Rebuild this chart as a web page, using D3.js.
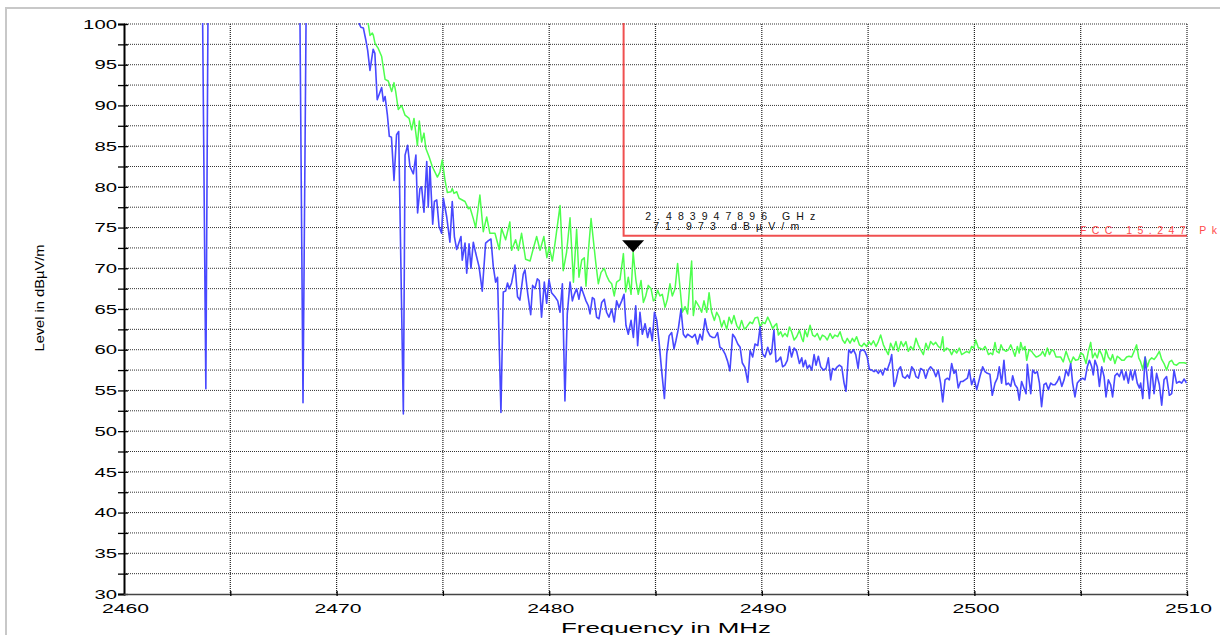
<!DOCTYPE html>
<html><head><meta charset="utf-8">
<script src="https://cdn.jsdelivr.net/npm/d3@7/dist/d3.min.js"></script>
<style>body{margin:0;background:#fff}svg{display:block}text{font-family:"Liberation Sans",Arial,sans-serif}</style>
</head><body>
<script>
// ---- axes ----
const freqDomain = [2460, 2510];
const levelDomain = [30, 100];
const freqGridTicks = [2465, 2470, 2475, 2480, 2485, 2490, 2495, 2500, 2505, 2510];
const freqLabelTicks = [2460, 2470, 2480, 2490, 2500, 2510];
const levelTicks = [30, 32.5, 35, 37.5, 40, 42.5, 45, 47.5, 50, 52.5, 55, 57.5, 60, 62.5, 65, 67.5, 70, 72.5, 75, 77.5, 80, 82.5, 85, 87.5, 90, 92.5, 95, 97.5, 100];
const levelLabelTicks = [30, 35, 40, 45, 50, 55, 60, 65, 70, 75, 80, 85, 90, 95, 100];

// ---- limit line (FCC 15.247 Pk) ----
const limitFreq = [2483.5, 2483.5, 2510];
const limitLevel = [104, 74, 74];
const limitLabel = "FCC 15.247 Pk";

// ---- marker ----
const markerFreq = 2483.947896;
const markerLevel = 71.973;
const markerText = ["2.483947896 GHz", "71.973 dBµV/m"];

// ---- green trace [MHz, dBµV/m] ----
const greenTrace = [
[2471.40,101.0],[2471.49,100.0],[2471.57,98.6],[2471.68,98.9],[2471.73,98.6],[2471.81,97.6],[2471.96,97.0],[2472.12,96.0],[2472.28,93.2],[2472.43,93.0],
[2472.59,91.7],[2472.70,92.8],[2472.78,91.7],[2472.90,89.5],[2473.06,90.0],[2473.22,88.8],[2473.41,88.4],[2473.53,87.0],[2473.64,88.4],[2473.80,85.1],
[2473.89,88.1],[2474.00,85.5],[2474.11,86.6],[2474.20,84.7],[2474.35,83.7],[2474.50,82.5],[2474.74,81.2],[2474.86,81.8],[2474.97,83.3],[2475.10,80.8],
[2475.21,79.3],[2475.38,79.4],[2475.44,79.8],[2475.52,79.2],[2475.65,79.4],[2475.76,78.6],[2476.04,78.2],[2476.20,77.3],[2476.27,77.5],[2476.43,76.1],
[2476.54,75.0],[2476.74,79.0],[2476.90,74.5],[2477.06,76.3],[2477.21,74.3],[2477.45,74.3],[2477.65,72.3],[2477.76,74.9],[2477.95,73.5],[2478.15,75.7],
[2478.23,72.2],[2478.42,73.5],[2478.55,72.2],[2478.70,74.3],[2478.89,71.1],[2479.10,70.9],[2479.25,72.4],[2479.41,73.9],[2479.57,72.2],[2479.75,73.9],
[2479.89,71.3],[2480.00,72.6],[2480.15,70.9],[2480.27,73.0],[2480.51,77.7],[2480.66,69.7],[2480.82,72.0],[2480.98,76.2],[2481.14,68.3],[2481.29,74.8],
[2481.40,68.9],[2481.53,71.0],[2481.65,71.3],[2481.73,67.8],[2481.84,72.0],[2481.97,76.1],[2482.08,73.4],[2482.19,70.7],[2482.31,68.1],[2482.44,69.5],
[2482.59,70.0],[2482.70,69.1],[2482.83,68.4],[2482.94,68.1],[2483.06,66.6],[2483.17,68.3],[2483.33,68.6],[2483.49,71.8],[2483.60,67.1],[2483.72,68.9],
[2483.85,66.8],[2483.948,71.973],[2484.08,68.5],[2484.19,66.8],[2484.32,68.5],[2484.43,65.8],[2484.54,66.6],[2484.66,67.9],[2484.79,67.5],[2484.90,66.0],
[2484.98,66.2],[2485.10,67.3],[2485.21,66.6],[2485.32,66.8],[2485.45,65.2],[2485.56,66.2],[2485.68,68.1],[2485.79,66.6],[2485.92,67.5],[2486.04,70.6],
[2486.15,67.7],[2486.26,64.6],[2486.39,65.3],[2486.51,64.4],[2486.62,68.3],[2486.70,70.9],[2486.78,64.2],[2486.89,66.0],[2487.05,65.3],[2487.17,64.6],
[2487.28,66.0],[2487.41,64.6],[2487.52,67.0],[2487.64,64.6],[2487.77,63.6],[2487.88,64.6],[2488.00,64.0],[2488.11,62.8],[2488.22,63.6],[2488.35,62.5],
[2488.46,64.0],[2488.58,63.2],[2488.69,64.2],[2488.82,63.0],[2488.93,62.5],[2489.05,63.6],[2489.18,62.5],[2489.29,62.8],[2489.45,63.4],[2489.56,63.2],
[2489.68,63.9],[2489.81,64.0],[2489.92,62.8],[2490.03,63.4],[2490.15,63.2],[2490.28,64.0],[2490.39,63.4],[2490.51,62.6],[2490.62,63.0],[2490.70,63.2],
[2490.78,61.8],[2490.89,62.2],[2490.98,61.6],[2491.09,62.0],[2491.20,61.6],[2491.30,62.8],[2491.40,62.2],[2491.52,61.2],[2491.64,61.6],[2491.77,62.4],
[2491.88,61.4],[2491.95,61.0],[2492.03,62.4],[2492.14,61.6],[2492.27,63.0],[2492.39,61.8],[2492.50,61.6],[2492.61,62.0],[2492.74,61.2],[2492.85,61.8],
[2492.97,61.6],[2493.08,61.2],[2493.21,62.0],[2493.33,61.4],[2493.44,61.8],[2493.57,61.6],[2493.68,62.2],[2493.80,61.2],[2493.91,60.8],[2494.02,61.4],
[2494.15,60.8],[2494.26,61.4],[2494.35,61.0],[2494.46,61.6],[2494.59,60.6],[2494.70,60.4],[2494.81,60.8],[2494.93,60.4],[2495.04,61.0],[2495.14,60.6],
[2495.25,61.1],[2495.37,60.4],[2495.48,61.0],[2495.59,61.8],[2495.72,60.6],[2495.83,60.0],[2495.95,59.4],[2496.06,60.8],[2496.19,60.0],[2496.31,61.0],
[2496.42,59.8],[2496.55,61.0],[2496.66,60.4],[2496.78,61.0],[2496.89,59.8],[2497.00,60.4],[2497.13,60.0],[2497.25,61.4],[2497.36,60.6],[2497.47,60.0],
[2497.60,59.4],[2497.72,60.8],[2497.83,60.0],[2497.94,61.0],[2498.07,60.6],[2498.18,60.9],[2498.30,60.4],[2498.41,60.2],[2498.51,61.6],[2498.57,59.8],
[2498.70,60.2],[2498.82,60.0],[2498.93,59.4],[2499.04,60.0],[2499.17,59.6],[2499.29,60.2],[2499.40,59.4],[2499.53,59.6],[2499.64,59.8],[2499.76,59.6],
[2499.87,60.4],[2499.98,60.2],[2500.06,61.2],[2500.19,60.2],[2500.26,60.2],[2500.39,60.0],[2500.50,60.4],[2500.58,60.0],[2500.66,59.4],[2500.77,59.6],
[2500.86,59.4],[2500.97,60.9],[2501.05,59.8],[2501.16,59.6],[2501.25,60.6],[2501.36,60.0],[2501.49,59.8],[2501.60,60.0],[2501.71,60.6],[2501.80,60.0],
[2501.91,59.2],[2502.02,60.4],[2502.11,59.6],[2502.18,60.9],[2502.27,60.0],[2502.38,60.4],[2502.46,58.7],[2502.57,60.0],[2502.69,59.8],[2502.80,59.4],
[2502.90,59.1],[2503.01,59.2],[2503.12,59.4],[2503.21,59.8],[2503.32,59.2],[2503.43,60.2],[2503.53,59.4],[2503.64,60.0],[2503.74,59.8],[2503.84,59.1],
[2503.95,59.1],[2504.06,59.1],[2504.18,58.5],[2504.31,59.8],[2504.42,59.0],[2504.53,58.3],[2504.65,59.1],[2504.76,58.7],[2504.89,58.8],[2505.00,59.6],
[2505.12,59.4],[2505.25,58.3],[2505.36,59.8],[2505.47,60.9],[2505.56,59.0],[2505.67,59.6],[2505.78,59.0],[2505.88,60.0],[2505.99,59.4],[2506.10,58.5],
[2506.19,60.0],[2506.30,59.1],[2506.41,58.7],[2506.50,59.4],[2506.61,58.3],[2506.72,59.2],[2506.82,59.0],[2506.93,58.7],[2507.04,58.7],[2507.16,59.1],
[2507.27,59.2],[2507.40,59.1],[2507.51,59.8],[2507.63,60.6],[2507.73,59.0],[2507.82,58.5],[2507.92,57.6],[2508.03,59.1],[2508.14,57.9],[2508.23,58.7],
[2508.34,59.0],[2508.45,58.8],[2508.57,59.2],[2508.70,59.8],[2508.81,58.8],[2508.92,58.3],[2509.04,57.5],[2509.17,58.5],[2509.28,58.7],[2509.39,58.2],
[2509.51,58.1],[2509.64,58.4],[2509.75,58.4],[2509.86,58.4],[2509.98,58.3]
];

// ---- blue trace [MHz, dBµV/m] (values above 100 are off scale) ----
const blueTrace = [
[2460.00,106],[2463.68,106],[2463.85,55.2],[2463.96,106],[2468.26,106],[2468.42,53.5],[2468.58,106],[2470.95,102],
[2471.07,100.0],[2471.14,99.6],[2471.26,99.5],[2471.37,98.1],[2471.46,96.8],[2471.57,94.3],[2471.72,96.9],[2471.80,96.4],[2471.91,90.7],[2472.12,92.2],
[2472.20,90.5],[2472.28,91.1],[2472.39,88.8],[2472.48,86.2],[2472.58,86.1],[2472.70,80.8],[2472.82,86.4],[2472.92,86.8],[2473.14,52.1],[2473.22,83.9],
[2473.34,85.1],[2473.45,82.5],[2473.61,81.6],[2473.73,83.9],[2473.81,76.8],[2473.92,79.8],[2474.00,80.0],[2474.11,76.9],[2474.24,83.1],[2474.31,77.5],
[2474.39,82.5],[2474.52,75.4],[2474.60,78.2],[2474.71,78.4],[2474.82,75.1],[2474.94,74.3],[2475.02,78.6],[2475.18,76.3],[2475.33,73.2],[2475.44,78.2],
[2475.54,73.9],[2475.65,72.3],[2475.85,73.9],[2475.91,71.0],[2476.04,73.1],[2476.12,69.4],[2476.23,73.0],[2476.32,70.0],[2476.43,73.2],[2476.54,71.9],
[2476.70,70.2],[2476.85,67.2],[2477.01,73.1],[2477.14,73.4],[2477.26,73.6],[2477.37,70.2],[2477.48,68.3],[2477.57,68.9],[2477.73,52.3],[2477.84,67.1],
[2477.95,67.2],[2478.04,68.2],[2478.12,67.5],[2478.23,68.2],[2478.39,70.4],[2478.51,66.5],[2478.62,66.1],[2478.78,69.3],[2478.86,69.8],[2478.99,66.9],
[2479.13,64.3],[2479.22,67.9],[2479.33,67.5],[2479.44,68.7],[2479.53,68.5],[2479.64,64.0],[2479.77,68.3],[2479.88,65.7],[2479.99,68.6],[2480.11,67.0],
[2480.27,66.5],[2480.40,66.0],[2480.51,64.6],[2480.62,68.1],[2480.74,53.7],[2480.85,64.4],[2480.98,68.3],[2481.09,66.0],[2481.18,66.8],[2481.29,67.5],
[2481.40,66.2],[2481.50,67.7],[2481.62,66.8],[2481.73,66.0],[2481.84,65.4],[2481.92,64.4],[2482.03,66.4],[2482.12,66.2],[2482.23,64.0],[2482.34,63.8],
[2482.47,65.8],[2482.59,66.2],[2482.70,64.6],[2482.81,64.0],[2482.94,65.0],[2483.06,63.4],[2483.17,66.0],[2483.28,65.2],[2483.41,66.0],[2483.52,66.8],
[2483.61,63.0],[2483.72,61.9],[2483.85,63.6],[2483.96,61.5],[2484.07,65.4],[2484.16,60.5],[2484.27,64.6],[2484.38,61.9],[2484.51,63.2],[2484.63,61.5],
[2484.74,62.7],[2484.85,61.1],[2484.95,64.6],[2485.06,63.6],[2485.17,60.9],[2485.29,57.4],[2485.42,54.0],[2485.53,59.5],[2485.64,61.7],[2485.76,62.1],
[2485.87,60.1],[2485.96,61.1],[2486.07,62.5],[2486.20,65.0],[2486.31,61.9],[2486.42,61.5],[2486.51,61.9],[2486.62,61.7],[2486.73,61.5],[2486.86,61.9],
[2486.98,60.7],[2487.09,61.9],[2487.20,61.2],[2487.33,63.8],[2487.44,62.3],[2487.56,61.7],[2487.69,61.5],[2487.80,61.5],[2487.92,62.1],[2488.03,60.3],
[2488.14,60.1],[2488.27,59.5],[2488.39,58.6],[2488.50,57.4],[2488.63,61.9],[2488.74,61.5],[2488.87,60.7],[2488.98,60.3],[2489.08,58.4],[2489.21,57.8],
[2489.34,56.0],[2489.45,59.9],[2489.57,59.1],[2489.68,60.7],[2489.81,60.5],[2489.92,62.8],[2490.03,59.5],[2490.15,59.1],[2490.28,60.3],[2490.39,59.4],
[2490.46,59.6],[2490.57,62.4],[2490.67,58.5],[2490.78,58.7],[2490.89,59.1],[2490.98,57.9],[2491.09,58.1],[2491.20,58.7],[2491.30,60.4],[2491.40,59.1],
[2491.52,60.2],[2491.64,59.8],[2491.77,58.3],[2491.88,59.0],[2491.95,57.9],[2492.05,58.7],[2492.14,57.7],[2492.24,58.1],[2492.35,57.5],[2492.46,59.4],
[2492.55,58.1],[2492.66,59.2],[2492.77,57.9],[2492.89,57.5],[2493.02,57.7],[2493.13,59.0],[2493.24,56.3],[2493.33,57.7],[2493.44,57.5],[2493.55,57.9],
[2493.65,58.1],[2493.76,57.9],[2493.87,55.9],[2493.96,54.9],[2494.09,60.0],[2494.20,59.6],[2494.31,60.0],[2494.42,59.4],[2494.53,57.7],[2494.62,59.8],
[2494.74,60.0],[2494.85,59.8],[2494.96,59.1],[2495.06,57.6],[2495.17,57.5],[2495.28,57.3],[2495.37,57.5],[2495.48,57.1],[2495.59,57.5],[2495.69,56.9],
[2495.79,57.7],[2495.90,57.5],[2496.03,58.5],[2496.11,59.4],[2496.22,55.5],[2496.31,56.1],[2496.42,57.5],[2496.53,57.9],[2496.63,56.7],[2496.74,56.5],
[2496.85,56.9],[2496.94,56.5],[2497.05,57.9],[2497.16,57.5],[2497.25,56.7],[2497.36,56.5],[2497.47,57.7],[2497.60,57.5],[2497.71,56.5],[2497.83,57.5],
[2497.94,57.9],[2498.07,57.5],[2498.19,56.7],[2498.30,57.5],[2498.41,55.9],[2498.51,53.6],[2498.62,56.3],[2498.73,56.5],[2498.82,56.3],[2498.93,58.3],
[2499.04,57.1],[2499.13,57.5],[2499.24,55.3],[2499.35,56.1],[2499.45,56.1],[2499.56,56.3],[2499.67,56.5],[2499.76,57.5],[2499.87,55.7],[2499.98,56.5],
[2500.11,55.1],[2500.26,56.7],[2500.39,57.9],[2500.50,57.3],[2500.61,57.1],[2500.73,57.0],[2500.84,54.4],[2500.97,55.9],[2501.08,56.5],[2501.17,57.9],
[2501.28,55.9],[2501.39,58.7],[2501.49,55.7],[2501.60,55.9],[2501.71,55.5],[2501.80,56.8],[2501.91,55.7],[2502.02,55.3],[2502.11,53.8],[2502.22,56.1],
[2502.33,55.3],[2502.43,54.6],[2502.49,58.2],[2502.58,56.1],[2502.65,54.6],[2502.74,57.5],[2502.85,57.1],[2502.96,57.3],[2503.06,55.9],[2503.16,53.0],
[2503.27,55.7],[2503.37,55.9],[2503.48,55.1],[2503.59,55.9],[2503.68,55.7],[2503.79,55.7],[2503.90,56.1],[2504.00,56.7],[2504.11,55.5],[2504.22,56.3],
[2504.31,57.5],[2504.42,56.8],[2504.53,58.3],[2504.62,55.9],[2504.73,54.2],[2504.84,55.9],[2504.97,56.3],[2505.09,56.5],[2505.20,56.3],[2505.31,57.9],
[2505.41,58.7],[2505.52,57.9],[2505.59,56.9],[2505.67,58.7],[2505.78,57.9],[2505.88,55.5],[2505.99,57.9],[2506.10,56.7],[2506.19,54.2],[2506.30,56.3],
[2506.41,55.7],[2506.50,54.2],[2506.61,56.8],[2506.72,57.1],[2506.82,56.7],[2506.93,57.5],[2507.04,56.3],[2507.13,57.3],[2507.24,55.9],[2507.35,57.5],
[2507.44,56.3],[2507.55,57.5],[2507.66,55.9],[2507.76,55.3],[2507.82,55.9],[2507.92,54.0],[2508.03,59.1],[2508.14,56.3],[2508.23,54.0],[2508.34,57.9],
[2508.45,54.6],[2508.57,57.1],[2508.70,55.7],[2508.81,53.2],[2508.92,56.3],[2509.04,56.7],[2509.17,54.4],[2509.28,54.6],[2509.39,57.5],[2509.51,55.9],
[2509.64,56.1],[2509.75,55.9],[2509.86,56.4],[2509.98,55.9]
];

const W = 1220, H = 635;
const plot = {left: 124, right: 1187, top: 24, bottom: 594};

const svg = d3.select("body").append("svg").attr("width", W).attr("height", H);
svg.append("rect").attr("width", W).attr("height", H).attr("fill", "#fff");
// outer frame (right and bottom edges lie outside the picture)
svg.append("rect").attr("x", 6).attr("y", 8).attr("width", 1230).attr("height", 700)
  .attr("fill", "none").attr("stroke", "#c8c8c8").attr("stroke-width", 2);

const x = d3.scaleLinear().domain(freqDomain).range([plot.left, plot.right]);
const y = d3.scaleLinear().domain(levelDomain).range([plot.bottom, plot.top]);

// grid
const grid = svg.append("g");
grid.selectAll("line.h").data(levelTicks.filter(d => d > 30)).join("line")
  .attr("x1", plot.left).attr("x2", plot.right).attr("y1", d => y(d)).attr("y2", d => y(d))
  .attr("stroke", "#333").attr("stroke-width", 1).attr("stroke-dasharray", "1,1");
grid.selectAll("line.v").data(freqGridTicks).join("line")
  .attr("x1", d => x(d)).attr("x2", d => x(d)).attr("y1", plot.top).attr("y2", plot.bottom)
  .attr("stroke", "#222").attr("stroke-width", 1.2).attr("stroke-dasharray", "1,1");

// clip
svg.append("clipPath").attr("id", "clip").append("rect")
  .attr("x", plot.left).attr("y", plot.top - 1).attr("width", plot.right - plot.left).attr("height", plot.bottom - plot.top + 1);

const line = d3.line().x(d => x(d[0])).y(d => y(d[1]));
const traces = svg.append("g").attr("clip-path", "url(#clip)");
traces.append("path").datum(greenTrace).attr("d", line)
  .attr("fill", "none").attr("stroke", "#4dff4d").attr("stroke-width", 1.5).attr("stroke-linejoin", "round");
traces.append("path").datum(blueTrace).attr("d", line)
  .attr("fill", "none").attr("stroke", "#4848ff").attr("stroke-width", 1.6).attr("stroke-linejoin", "round");

// limit line
const limitData = limitFreq.map((f, i) => [f, limitLevel[i]]);
traces.append("path").datum(limitData).attr("d", line)
  .attr("fill", "none").attr("stroke", "#f05050").attr("stroke-width", 2);
svg.append("text").attr("x", 1080).attr("y", y(74) - 1.5).text(limitLabel)
  .attr("fill", "#ff4a4a").attr("font-size", 10.5).attr("textLength", 137).attr("lengthAdjust", "spacing");

// axes
const yAxis = d3.axisLeft(y).tickValues(levelTicks).tickSize(6).tickFormat("");
const yg = svg.append("g").attr("transform", `translate(${plot.left},0)`).call(yAxis);
yg.select(".domain").attr("stroke", "#000").attr("stroke-width", 2);
yg.selectAll(".tick line").attr("x1", 4).attr("stroke", "#000").attr("stroke-width", 1.3);
yg.selectAll(".tick.lbl").data(levelLabelTicks).join("text")
  .attr("x", -7).attr("y", d => y(d)).attr("dy", "0.36em").attr("text-anchor", "end")
  .attr("font-size", 13).attr("fill", "#000")
  .attr("textLength", d => String(d).length * 11.3).attr("lengthAdjust", "spacingAndGlyphs")
  .text(d => d);

const xAxis = d3.axisBottom(x).tickValues(freqGridTicks).tickSize(2).tickFormat("");
const xg = svg.append("g").attr("transform", `translate(0,${plot.bottom})`).call(xAxis);
xg.select(".domain").attr("stroke", "#444").attr("stroke-width", 1.5);
xg.selectAll(".tick line").attr("y1", -3).attr("stroke", "#000").attr("stroke-width", 1.3);
xg.selectAll(".lbl").data(freqLabelTicks).join("text")
  .attr("x", d => x(d) + 1.5).attr("y", 19).attr("text-anchor", "middle")
  .attr("font-size", 13).attr("fill", "#000")
  .attr("textLength", 47).attr("lengthAdjust", "spacingAndGlyphs")
  .text(d => d);

// axis titles
svg.append("text").attr("transform", "translate(44,298) rotate(-90)").attr("text-anchor", "middle")
  .attr("font-family", "'Liberation Sans Narrow','Arial Narrow',sans-serif")
  .attr("font-size", 12.5).attr("textLength", 107).attr("lengthAdjust", "spacingAndGlyphs")
  .text("Level in dBµV/m");
svg.append("text").attr("x", 666).attr("y", 633).attr("text-anchor", "middle")
  .attr("font-size", 15).attr("textLength", 210).attr("lengthAdjust", "spacingAndGlyphs")
  .text("Frequency in MHz");

// marker
const mx = x(markerFreq), my = y(markerLevel);
svg.append("path").attr("d", `M${mx - 11},${my - 12}L${mx + 11},${my - 12}L${mx},${my}Z`).attr("fill", "#000");
svg.append("text").attr("x", mx + 12).attr("y", 219.5).attr("font-size", 10.5).attr("fill", "#111")
  .attr("textLength", 170).attr("lengthAdjust", "spacing").text(markerText[0]);
svg.append("text").attr("x", mx + 20).attr("y", 229.8).attr("font-size", 10.5).attr("fill", "#111")
  .attr("textLength", 146).attr("lengthAdjust", "spacing").text(markerText[1]);
</script>
</body></html>
